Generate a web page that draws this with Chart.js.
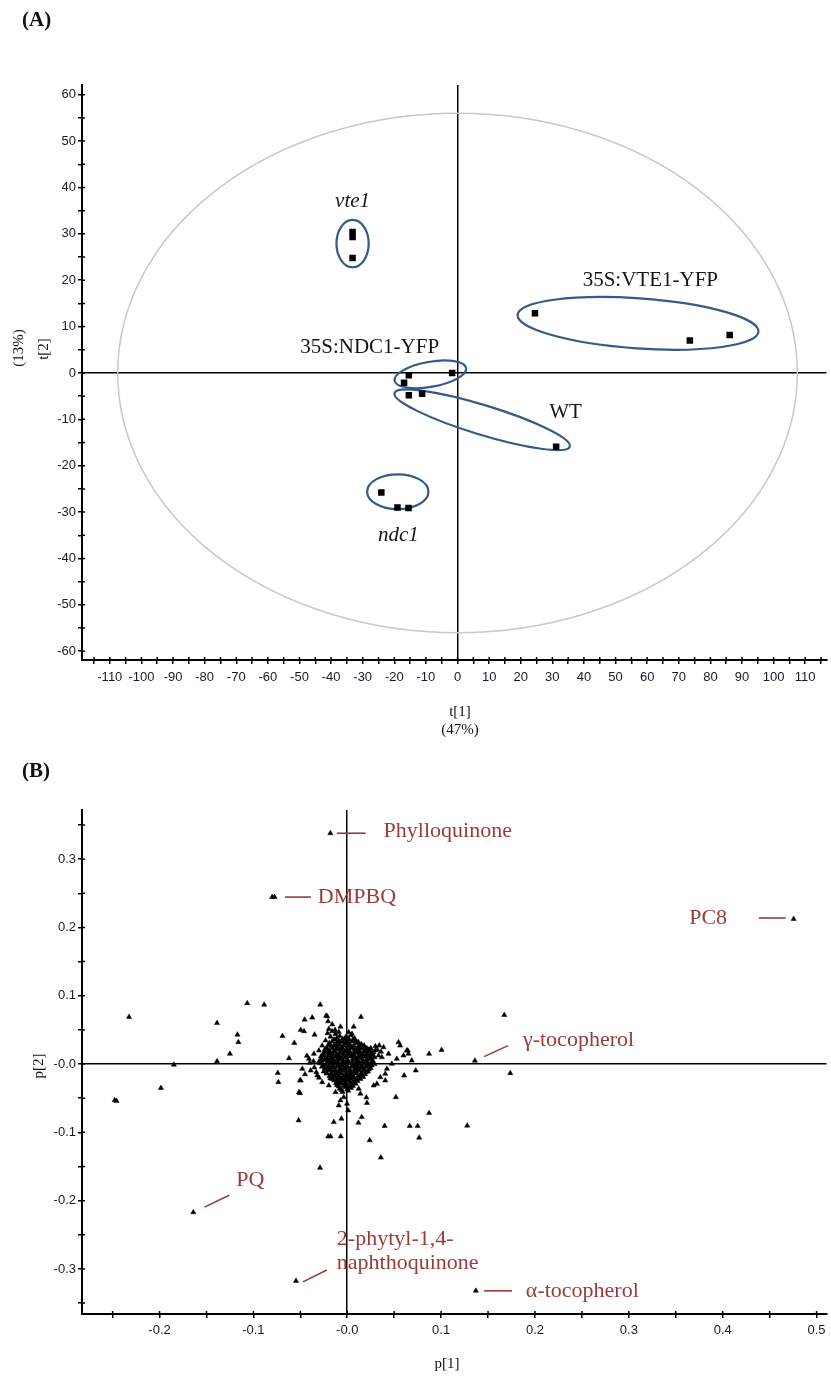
<!DOCTYPE html>
<html>
<head>
<meta charset="utf-8">
<script src="https://cdn.jsdelivr.net/npm/chart.js@4/dist/chart.umd.min.js"></script>
<style>
body { margin: 0; background: #fff; width: 831px; height: 1376px; position: relative; overflow: hidden; }
#wrapA { position: absolute; left: 0; top: 0; width: 831px; height: 740px; }
#wrapB { position: absolute; left: 0; top: 760px; width: 831px; height: 616px; }
.panel { position: absolute; left: 22px; font: bold 21px 'Liberation Serif', serif; color: #111; }
.ttl { position: absolute; font: 15px 'Liberation Serif', serif; color: #111; white-space: nowrap; transform: translate(-50%, -50%); }
.rot { transform: translate(-50%, -50%) rotate(-90deg); }
</style>
</head>
<body>
<div id="wrapA"><canvas id="chartA"></canvas></div>
<div id="wrapB"><canvas id="chartB"></canvas></div>
<div class="panel" style="top:7px">(A)</div>
<div class="panel" style="top:758px">(B)</div>
<div class="ttl" style="left:460px;top:711px">t[1]</div>
<div class="ttl" style="left:460px;top:729px">(47%)</div>
<div class="ttl rot" style="left:18px;top:348px">(13%)</div>
<div class="ttl rot" style="left:43px;top:349px">t[2]</div>
<div class="ttl" style="left:447px;top:1363px">p[1]</div>
<div class="ttl rot" style="left:38px;top:1066px">p[2]</div>
<script>
// ---- (A) scores ----
const groupNames = ['vte1', '35S:VTE1-YFP', '35S:NDC1-YFP', 'WT', 'ndc1'];
const scoreT1 = [-33.2, -33.2, -33.2, 24.5, 73.5, 86.1, -15.4, -16.9, -1.7, -15.4, -11.2, 31.2, -24.1, -19.0, -15.5];
const scoreT2 = [30.4, 29.3, 24.8, 12.9, 7.0, 8.2, -0.5, -2.1, 0.0, -4.8, -4.5, -15.9, -25.8, -29.0, -29.1];
const t1Ticks = [-110, 110];
const t2Ticks = [-60, 60];

// group ellipses drawn round the clusters (centre, half axes, tilt in degrees)
const ellCenterT1 = [-33.2, 57.1, -8.6, 7.8, -18.9];
const ellCenterT2 = [27.9, 10.7, -0.3, -10.1, -25.6];
const ellRadT1 = [5.1, 38.2, 11.5, 29.0, 9.7];
const ellRadT2 = [5.1, 5.4, 2.7, 3.2, 3.75];
const ellTilt = [0, 4, -10, 17, 0];
const groupLabelT1 = [-33.2, 61.0, -27.8, 34.2, -18.7];
const groupLabelT2 = [37.0, 19.9, 5.6, -8.6, -35.1];
const groupItalic = [true, false, false, false, true];
const hotellingT1 = 107.5;
const hotellingT2 = 56;

// ---- (B) loadings ----
const compoundNames = ['Phylloquinone', 'DMPBQ', 'PC8', 'γ-tocopherol', 'PQ', '2-phytyl-1,4-|naphthoquinone', 'α-tocopherol'];
const compoundP1 = [-0.018, -0.0774, 0.4756, 0.136, -0.164, -0.0546, 0.137];
const compoundP2 = [0.338, 0.2445, 0.2124, 0.005, -0.217, -0.3175, -0.332];
const labelP1 = [0.0387, -0.0313, 0.3643, 0.1872, -0.1182, -0.0111, 0.1903];
const labelP2 = [0.341, 0.2445, 0.2139, 0.0343, -0.170, -0.256, -0.3321];
const leaderFrom = [[-0.0111, 0.338], [-0.0663, 0.2445], [0.4385, 0.2139], [0.1458, 0.0109], [-0.1522, -0.2095], [-0.0472, -0.319], [0.1458, -0.3321]];
const leaderTo = [[0.0196, 0.338], [-0.0387, 0.2445], [0.4671, 0.2139], [0.1713, 0.027], [-0.1257, -0.192], [-0.0217, -0.3015], [0.1755, -0.3321]];

const otherLoadings = [
  [-0.080, 0.2445],
  [-0.2325, 0.069], [-0.2458, -0.054], [-0.2478, -0.053], [-0.1985, -0.035], [-0.1847, -0.001],
  [-0.1387, 0.060], [-0.1387, 0.004], [-0.125, 0.015], [-0.117, 0.043], [-0.116, 0.032],
  [-0.1066, 0.089], [-0.0885, 0.087], [-0.069, 0.041], [-0.062, 0.0085], [-0.0564, 0.031],
  [-0.0454, 0.065], [-0.0373, 0.068], [-0.0348, 0.043], [-0.0288, 0.087], [-0.0214, 0.070], [0.0146, 0.069],
  [-0.0496, 0.050], [-0.046, 0.048], [-0.0225, 0.0708], [-0.0204, 0.0625],
  [-0.074, -0.013], [-0.0734, -0.0265], [-0.0504, -0.024], [-0.0504, -0.0426], [-0.0518, -0.0825],
  [-0.029, -0.152], [-0.0203, -0.106], [-0.0178, -0.106], [-0.0143, -0.085], [-0.0062, -0.080], [-0.0069, -0.106],
  [0.0119, -0.086], [0.0154, -0.0777], [0.0239, -0.1117], [0.0358, -0.137], [0.0398, -0.0908], [0.0518, -0.0485],
  [0.0606, -0.0168], [0.0666, -0.0908], [0.075, -0.0908], [0.0766, -0.1078], [0.0872, -0.0718], [0.1278, -0.0902],
  [0.073, -0.0095], [0.1737, -0.0134], [0.1673, 0.0718], [0.0872, 0.0149], [0.1005, 0.0207], [0.0645, 0.0197],
  [0.0204, -0.049], [0.021, -0.057],
  [-0.0072, 0.0547], [0.0069, 0.0547], [0.0016, 0.0464], [0.0051, 0.044],
  [-0.0196, 0.0514], [-0.0161, 0.0479], [-0.0125, 0.044], [-0.0178, 0.0401], [-0.0231, 0.0343], [-0.0267, 0.027],
  [0.0104, 0.0318], [0.014, 0.0245],
  [0.0341, 0.027], [0.0387, 0.0245], [0.0546, 0.0318], [0.0564, 0.027], [0.0634, 0.0197], [0.0652, 0.0149],
  [0.0599, 0.0124], [0.0528, 0.0076], [0.044, 0.0149], [0.0299, 0.0197], [0.0263, 0.0149], [0.0334, 0.0124], [0.0369, 0.0099],
  [0.0687, 0.0051], [0.0475, 0.0003], [0.0422, -0.007], [0.0405, -0.0143], [0.0352, -0.0193], [0.0316, -0.0289],
  [0.0281, -0.0314], [0.0405, -0.0241], [0.014, -0.0435], [0.0122, -0.0362],
  [-0.009, -0.0606], [-0.0072, -0.0533], [-0.0037, -0.0485], [-0.0002, -0.0581], [0.0009, -0.0679],
  [-0.0125, -0.0412], [-0.0196, -0.0314], [-0.0267, -0.0266], [-0.032, -0.0168], [-0.039, -0.0095],
  [-0.0479, -0.007], [-0.0496, -0.0241], [-0.0514, -0.0412],
  [-0.0408, 0.0076], [-0.0355, 0.0149], [-0.0302, 0.0197], [-0.0249, 0.0124],
  [0.025, 0.022], [0.030, 0.026], [0.028, 0.017], [0.022, 0.018], [0.036, 0.018], [0.032, 0.021],
  [-0.035, -0.005], [-0.040, 0.002], [-0.033, -0.012], [-0.045, -0.015], [-0.036, 0.004], [-0.030, -0.020], [-0.043, 0.012],
  [-0.016, 0.058], [-0.013, 0.050], [-0.021, 0.045], [-0.009, 0.047],
  // dense core
  [-0.008, 0.041], [-0.002, 0.039], [0.004, 0.042],
  [-0.014, 0.036], [-0.009, 0.034], [-0.003, 0.036], [0.002, 0.035], [0.008, 0.037],
  [-0.019, 0.031], [-0.013, 0.029], [-0.008, 0.031], [-0.002, 0.030], [0.003, 0.028], [0.009, 0.031], [0.015, 0.029],
  [-0.022, 0.024], [-0.017, 0.026], [-0.011, 0.025], [-0.006, 0.024], [0.000, 0.026], [0.005, 0.025], [0.011, 0.024], [0.017, 0.026], [0.021, 0.023],
  [-0.024, 0.021], [-0.019, 0.019], [-0.014, 0.020], [-0.008, 0.021], [-0.003, 0.019], [0.002, 0.020], [0.008, 0.021], [0.013, 0.019], [0.018, 0.020], [0.023, 0.021],
  [-0.026, 0.014], [-0.021, 0.016], [-0.016, 0.015], [-0.011, 0.014], [-0.005, 0.016], [0.000, 0.015], [0.005, 0.014], [0.010, 0.016], [0.016, 0.015], [0.021, 0.014], [0.026, 0.016],
  [-0.028, 0.011], [-0.022, 0.009], [-0.017, 0.010], [-0.012, 0.011], [-0.007, 0.009], [-0.002, 0.010], [0.004, 0.011], [0.009, 0.009], [0.014, 0.010], [0.019, 0.011], [0.024, 0.009], [0.029, 0.010],
  [-0.030, 0.004], [-0.024, 0.006], [-0.019, 0.005], [-0.014, 0.004], [-0.009, 0.006], [-0.004, 0.005], [0.001, 0.004], [0.006, 0.006], [0.011, 0.005], [0.016, 0.004], [0.021, 0.006], [0.027, 0.005],
  [-0.029, 0.001], [-0.023, -0.001], [-0.018, 0.000], [-0.013, 0.001], [-0.008, -0.001], [-0.003, 0.000], [0.002, 0.001], [0.008, -0.001], [0.013, 0.000], [0.018, 0.001], [0.023, -0.001], [0.029, 0.000],
  [-0.027, -0.004], [-0.021, -0.006], [-0.016, -0.005], [-0.011, -0.004], [-0.006, -0.006], [0.000, -0.005], [0.005, -0.004], [0.010, -0.006], [0.015, -0.005], [0.020, -0.004], [0.025, -0.006],
  [-0.025, -0.011], [-0.019, -0.009], [-0.014, -0.010], [-0.009, -0.011], [-0.003, -0.009], [0.002, -0.010], [0.007, -0.011], [0.012, -0.009], [0.017, -0.010], [0.022, -0.011],
  [-0.022, -0.014], [-0.016, -0.016], [-0.011, -0.015], [-0.006, -0.014], [-0.001, -0.016], [0.004, -0.015], [0.009, -0.014], [0.014, -0.016], [0.019, -0.015],
  [-0.018, -0.021], [-0.013, -0.019], [-0.008, -0.020], [-0.003, -0.021], [0.002, -0.019], [0.007, -0.020], [0.012, -0.021], [0.017, -0.019],
  [-0.014, -0.024], [-0.009, -0.026], [-0.004, -0.025], [0.001, -0.024], [0.006, -0.026], [0.011, -0.025],
  [-0.011, -0.031], [-0.006, -0.029], [-0.001, -0.030], [0.004, -0.031], [0.009, -0.029],
  [-0.008, -0.036], [-0.002, -0.034], [0.004, -0.035],
  [-0.005, -0.041], [0.001, -0.039],
  // core, in between
  [-0.011, 0.038], [-0.005, 0.037], [0.001, 0.038], [0.006, 0.036],
  [-0.016, 0.033], [-0.011, 0.032], [-0.005, 0.033], [0.000, 0.032], [0.006, 0.033], [0.012, 0.032],
  [-0.020, 0.028], [-0.014, 0.027], [-0.009, 0.028], [-0.004, 0.027], [0.002, 0.028], [0.007, 0.027], [0.013, 0.028], [0.018, 0.027],
  [-0.022, 0.022], [-0.016, 0.023], [-0.011, 0.022], [-0.005, 0.023], [0.000, 0.022], [0.005, 0.023], [0.010, 0.022], [0.015, 0.023], [0.020, 0.022], [0.025, 0.023],
  [-0.024, 0.018], [-0.018, 0.017], [-0.013, 0.018], [-0.008, 0.017], [-0.002, 0.018], [0.003, 0.017], [0.008, 0.018], [0.013, 0.017], [0.019, 0.018], [0.024, 0.017],
  [-0.026, 0.013], [-0.020, 0.012], [-0.015, 0.013], [-0.009, 0.012], [-0.004, 0.013], [0.001, 0.012], [0.007, 0.013], [0.012, 0.012], [0.017, 0.013], [0.022, 0.012], [0.027, 0.013],
  [-0.027, 0.008], [-0.021, 0.007], [-0.016, 0.008], [-0.011, 0.007], [-0.006, 0.008], [0.000, 0.007], [0.006, 0.008], [0.011, 0.007], [0.016, 0.008], [0.021, 0.007], [0.026, 0.008],
  [-0.027, 0.003], [-0.021, 0.002], [-0.016, 0.003], [-0.010, 0.002], [-0.005, 0.003], [0.000, 0.002], [0.005, 0.003], [0.010, 0.002], [0.016, 0.003], [0.021, 0.002], [0.026, 0.003],
  [-0.026, -0.002], [-0.020, -0.003], [-0.015, -0.002], [-0.010, -0.003], [-0.005, -0.002], [0.000, -0.003], [0.005, -0.002], [0.011, -0.003], [0.016, -0.002], [0.021, -0.003], [0.026, -0.002],
  [-0.024, -0.007], [-0.018, -0.008], [-0.013, -0.007], [-0.008, -0.008], [-0.003, -0.007], [0.003, -0.008], [0.008, -0.007], [0.013, -0.008], [0.018, -0.007], [0.023, -0.008],
  [-0.022, -0.012], [-0.017, -0.013], [-0.012, -0.012], [-0.006, -0.013], [-0.001, -0.012], [0.004, -0.013], [0.010, -0.012], [0.015, -0.013], [0.020, -0.012],
  [-0.019, -0.018], [-0.014, -0.017], [-0.009, -0.018], [-0.004, -0.017], [0.001, -0.018], [0.006, -0.017], [0.011, -0.018], [0.016, -0.017],
  [-0.016, -0.022], [-0.011, -0.023], [-0.006, -0.022], [-0.001, -0.023], [0.004, -0.022], [0.009, -0.023], [0.014, -0.022],
  [-0.012, -0.028], [-0.007, -0.027], [-0.002, -0.028], [0.003, -0.027], [0.008, -0.028],
  [-0.009, -0.033], [-0.004, -0.032], [0.001, -0.033], [0.006, -0.032],
  [-0.006, -0.038], [0.000, -0.037]
];

Chart.defaults.font.family = "'Liberation Sans', Arial, sans-serif";
Chart.defaults.font.size = 13;
Chart.defaults.color = '#1a1a2a';

const labelRed = '#9b3a3a';
const ellipseBlue = '#35598a';

function fixAxis(w, h) {
  return s => {
    if (w) s.width = w;
    if (h) s.height = h;
    s.paddingLeft = 0; s.paddingRight = 0; s.paddingTop = 0; s.paddingBottom = 0;
  };
}

function zeroLine(c) {
  return c.tick && c.tick.value === 0 ? '#000' : 'rgba(0,0,0,0)';
}

// tick marks that poke into the plot as well
const innerTicks = {
  id: 'innerTicks',
  afterDraw(chart) {
    const { ctx, chartArea, scales: { x, y } } = chart;
    ctx.save();
    ctx.strokeStyle = '#000';
    ctx.lineWidth = 1.5;
    ctx.beginPath();
    x.ticks.forEach((t, i) => {
      const px = x.getPixelForTick(i);
      ctx.moveTo(px, chartArea.bottom);
      ctx.lineTo(px, chartArea.bottom - 3);
    });
    y.ticks.forEach((t, i) => {
      const py = y.getPixelForTick(i);
      ctx.moveTo(chartArea.left, py);
      ctx.lineTo(chartArea.left + 3, py);
    });
    ctx.stroke();
    ctx.restore();
  }
};

const groupShapes = {
  id: 'groupShapes',
  beforeDatasetsDraw(chart) {
    const { ctx, scales: { x, y } } = chart;
    ctx.save();
    // Hotelling T2 ellipse
    ctx.beginPath();
    ctx.ellipse(x.getPixelForValue(0), y.getPixelForValue(0),
      x.getPixelForValue(hotellingT1) - x.getPixelForValue(0),
      y.getPixelForValue(0) - y.getPixelForValue(hotellingT2), 0, 0, 2 * Math.PI);
    ctx.strokeStyle = '#c8c8c8';
    ctx.lineWidth = 1.5;
    ctx.stroke();
    for (let i = 0; i < groupNames.length; i++) {
      const cx = x.getPixelForValue(ellCenterT1[i]);
      const cy = y.getPixelForValue(ellCenterT2[i]);
      const rx = Math.abs(x.getPixelForValue(ellCenterT1[i] + ellRadT1[i]) - cx);
      const ry = Math.abs(y.getPixelForValue(ellCenterT2[i] + ellRadT2[i]) - cy);
      ctx.beginPath();
      ctx.ellipse(cx, cy, rx, ry, ellTilt[i] * Math.PI / 180, 0, 2 * Math.PI);
      ctx.strokeStyle = ellipseBlue;
      ctx.lineWidth = 2.2;
      ctx.stroke();
    }
    ctx.restore();
  },
  afterDatasetsDraw(chart) {
    const { ctx, scales: { x, y } } = chart;
    ctx.save();
    ctx.fillStyle = '#151515';
    ctx.textAlign = 'center';
    ctx.textBaseline = 'middle';
    for (let i = 0; i < groupNames.length; i++) {
      ctx.font = (groupItalic[i] ? 'italic ' : '') + "21px 'Liberation Serif', serif";
      ctx.fillText(groupNames[i], x.getPixelForValue(groupLabelT1[i]), y.getPixelForValue(groupLabelT2[i]));
    }
    ctx.restore();
  }
};

const compoundLabels = {
  id: 'compoundLabels',
  afterDatasetsDraw(chart) {
    const { ctx, scales: { x, y } } = chart;
    ctx.save();
    ctx.strokeStyle = labelRed;
    ctx.fillStyle = labelRed;
    ctx.lineWidth = 1.6;
    ctx.font = "22px 'Liberation Serif', serif";
    ctx.textAlign = 'left';
    ctx.textBaseline = 'middle';
    for (let i = 0; i < compoundNames.length; i++) {
      ctx.beginPath();
      ctx.moveTo(x.getPixelForValue(leaderFrom[i][0]), y.getPixelForValue(leaderFrom[i][1]));
      ctx.lineTo(x.getPixelForValue(leaderTo[i][0]), y.getPixelForValue(leaderTo[i][1]));
      ctx.stroke();
      const lines = compoundNames[i].split('|');
      lines.forEach((ln, k) => {
        ctx.fillText(ln, x.getPixelForValue(labelP1[i]), y.getPixelForValue(labelP2[i]) + k * 24);
      });
    }
    ctx.restore();
  }
};

new Chart(document.getElementById('chartA'), {
  type: 'scatter',
  data: {
    datasets: [{
      data: scoreT1.map((v, i) => ({ x: v, y: scoreT2[i] })),
      pointStyle: 'rect',
      pointRadius: 4.6,
      backgroundColor: '#000',
      borderWidth: 0
    }]
  },
  options: {
    responsive: true,
    maintainAspectRatio: false,
    animation: false,
    layout: { padding: { top: 85, right: 1, left: 0, bottom: 0 } },
    plugins: { legend: { display: false }, tooltip: { enabled: false } },
    scales: {
      x: {
        type: 'linear', min: -118.8, max: 116.7,
        afterFit: fixAxis(0, 80),
        ticks: {
          stepSize: 5, includeBounds: false, autoSkip: false, maxRotation: 0, minRotation: 0, padding: 6,
          callback: v => (v % 10 === 0 && v >= t1Ticks[0] && v <= t1Ticks[1] ? String(v) : '')
        },
        grid: { color: zeroLine, lineWidth: 1.5, tickColor: '#000', tickWidth: 1.5, tickLength: 4 },
        border: { color: '#000', width: 2 }
      },
      y: {
        type: 'linear', min: -61.9, max: 62.1,
        afterFit: fixAxis(82, 0),
        ticks: {
          stepSize: 5, includeBounds: false, autoSkip: false, padding: 2,
          callback: v => (v % 10 === 0 && v >= t2Ticks[0] && v <= t2Ticks[1] ? String(v) : '')
        },
        grid: { color: zeroLine, lineWidth: 1.5, tickColor: '#000', tickWidth: 1.5, tickLength: 4 },
        border: { color: '#000', width: 2 }
      }
    }
  },
  plugins: [groupShapes, innerTicks]
});

function loadingLabel(v) {
  const k = Math.round(v * 100);
  if (k % 10 !== 0) return '';
  return k === 0 ? '-0.0' : (k / 100).toFixed(1);
}

new Chart(document.getElementById('chartB'), {
  type: 'scatter',
  data: {
    datasets: [{
      data: otherLoadings.map(p => ({ x: p[0], y: p[1] }))
        .concat(compoundP1.map((v, i) => ({ x: v, y: compoundP2[i] }))),
      pointStyle: 'triangle',
      pointRadius: 3,
      backgroundColor: '#000',
      borderColor: '#000',
      borderWidth: 0.5
    }]
  },
  options: {
    responsive: true,
    maintainAspectRatio: false,
    animation: false,
    layout: { padding: { top: 50, right: 1, left: 0, bottom: 0 } },
    plugins: { legend: { display: false }, tooltip: { enabled: false } },
    scales: {
      x: {
        type: 'linear', min: -0.2826, max: 0.5106,
        afterFit: fixAxis(0, 62),
        ticks: { stepSize: 0.05, includeBounds: false, autoSkip: false, maxRotation: 0, minRotation: 0, padding: 5, callback: loadingLabel },
        grid: { color: zeroLine, lineWidth: 1.5, tickColor: '#000', tickWidth: 1.5, tickLength: 4 },
        border: { color: '#000', width: 2 }
      },
      y: {
        type: 'linear', min: -0.366, max: 0.372,
        afterFit: fixAxis(82, 0),
        ticks: { stepSize: 0.05, includeBounds: false, autoSkip: false, padding: 2, callback: loadingLabel },
        grid: { color: zeroLine, lineWidth: 1.5, tickColor: '#000', tickWidth: 1.5, tickLength: 4 },
        border: { color: '#000', width: 2 }
      }
    }
  },
  plugins: [compoundLabels, innerTicks]
});
</script>
</body>
</html>
